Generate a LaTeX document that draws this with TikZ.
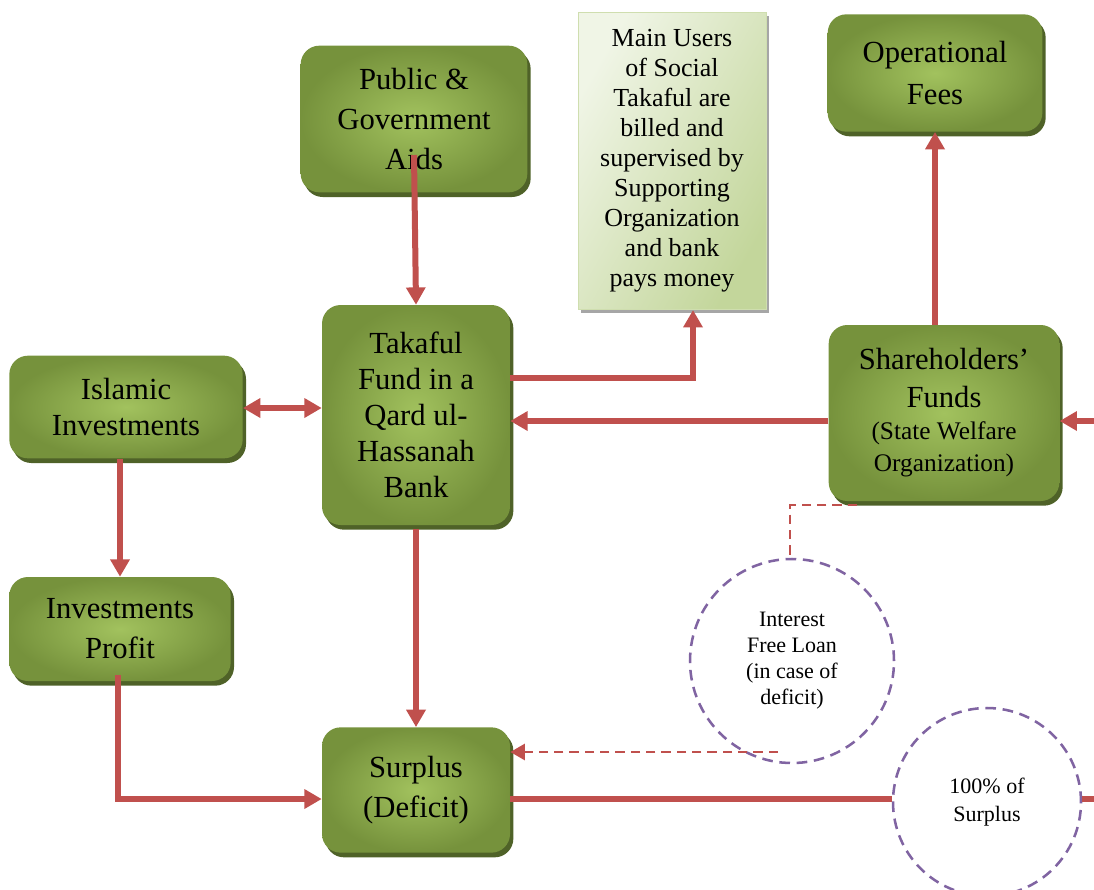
\documentclass[tikz,border=0pt]{standalone}
\usepackage{fontspec}
\setmainfont{Liberation Serif}
\usetikzlibrary{arrows.meta,shadows,calc}
\definecolor{ored}{HTML}{C0504D}
\definecolor{opurple}{HTML}{8064A2}
\definecolor{glight}{HTML}{A2C25E}
\definecolor{gdark}{HTML}{76923C}
\definecolor{gshadow}{HTML}{4F6228}
\definecolor{llight}{HTML}{F0F5E6}
\definecolor{lgreen}{HTML}{C3D69B}
\tikzset{
  gbox/.style={rectangle, rounded corners=14pt, inner color=glight, outer color=gdark,
    align=flush center, inner sep=3pt,
    font=\fontsize{23}{30}\selectfont,
    drop shadow={shadow xshift=2.5pt, shadow yshift=-3.5pt, fill=gshadow, opacity=1}},
  lbox/.style={rectangle, left color=llight, right color=lgreen, shading angle=60,
    draw=lgreen!80!white, line width=0.6pt, align=flush center, inner sep=3pt,
    font=\fontsize{19.5}{22.5}\selectfont,
    drop shadow={shadow xshift=2pt, shadow yshift=-2.5pt, fill=black!35, opacity=1}},
  dcirc/.style={circle, draw=opurple, line width=1.9pt, dash pattern=on 8pt off 5pt,
    fill=white, align=flush center, inner sep=0pt, font=\fontsize{16.5}{19.5}\selectfont},
  redarrow/.style={draw=ored, line width=4.5pt, -{Triangle[length=13pt,width=14pt]}},
  redboth/.style={draw=ored, line width=4.5pt, {Triangle[length=13pt,width=14pt]}-{Triangle[length=13pt,width=14pt]}},
  redline/.style={draw=ored, line width=4.5pt},
  reddash/.style={draw=ored, line width=2.2pt, dash pattern=on 7pt off 4.5pt},
  reddasharrow/.style={reddash, -{Triangle[length=11pt,width=12pt]}}
}
\begin{document}
\begin{tikzpicture}[x=0.75pt, y=-0.75pt]
\useasboundingbox (0,0) rectangle (1094,889);
\clip (0,0) rectangle (1094,889);

% nodes
\node[gbox, minimum width=170pt, minimum height=110pt, text width=160pt] (pub) at (414,119)
  {Public \&\\Government\\Aids};
\node[lbox, minimum width=141pt, minimum height=223pt, text width=133pt] (main) at (672,161)
  {Main Users\\of Social\\Takaful are\\billed and\\supervised by\\Supporting\\Organization\\and bank\\pays money};
\node[gbox, minimum width=161pt, minimum height=88pt, text width=150pt,
  font=\fontsize{23}{31}\selectfont] (of) at (935,73)
  {Operational\\Fees};
\node[gbox, minimum width=141pt, minimum height=165pt, text width=132pt,
  font=\fontsize{23}{27}\selectfont] (tak) at (416,415)
  {Takaful\\Fund in a\\Qard ul-\\Hassanah\\Bank};
\node[gbox, minimum width=175pt, minimum height=77pt, text width=165pt,
  font=\fontsize{23}{26.5}\selectfont] (isl) at (126,407)
  {Islamic\\Investments};
\node[gbox, minimum width=173pt, minimum height=132pt, text width=165pt,
  font=\fontsize{23}{28.5}\selectfont] (sh) at (944,413)
  {Shareholders’\\Funds\par
   {\fontsize{19}{24}\selectfont (State Welfare\\Organization)\par}};
\node[gbox, minimum width=166pt, minimum height=78pt, text width=158pt] (ip) at (120,629)
  {Investments\\Profit};
\node[gbox, minimum width=141pt, minimum height=94pt, text width=132pt] (sur) at (416,790)
  {Surplus\\(Deficit)};
\node[dcirc, minimum size=153pt] (c1) at (792,661)
  {Interest\\Free Loan\\(in case of\\deficit)};
\node[dcirc, minimum size=141pt, font=\fontsize{16.5}{21}\selectfont] (c2) at (987,802)
  {100\% of\\Surplus};

% helper coordinates
\coordinate (m1) at (693,378);
\coordinate (y421) at (0,421);
\coordinate (y408) at (0,408);
\coordinate (re) at (1094,421);
\coordinate (y799) at (0,799);
\coordinate (rb) at (1094,799);
\coordinate (d0) at (857,505);
\coordinate (d1) at (790,505);
\coordinate (d2) at (778,752);

% connectors
\draw[redarrow] ($(pub.center)+(0,36)$) -- (tak.north);
\draw[redarrow] (tak.east|-m1) -- (m1) -- (main.south-|m1);
\draw[redarrow] (sh.west|-y421) -- (tak.east|-y421);
\draw[redarrow] (sh.north-|of.south) -- (of.south);
\draw[redarrow] (re) -- (sh.east|-re);
\draw[redboth] (isl.east|-y408) -- (tak.west|-y408);
\draw[redarrow] (isl.south-|ip.north) -- (ip.north);
\draw[redarrow] ($(tak.south)+(0,4)$) -- (sur.north);
\draw[redarrow] ($(ip.south)+(-2,-6)$) |- (sur.west|-y799);
\draw[redline] (sur.east|-y799) -- (c2.west|-y799);
\draw[redline] (c2.east|-y799) -- (rb);
\draw[reddash] (d0) -- (d1) -- (d1|-c1.north);
\draw[reddasharrow] (d2) -- (sur.east|-d2);
\end{tikzpicture}
\end{document}
